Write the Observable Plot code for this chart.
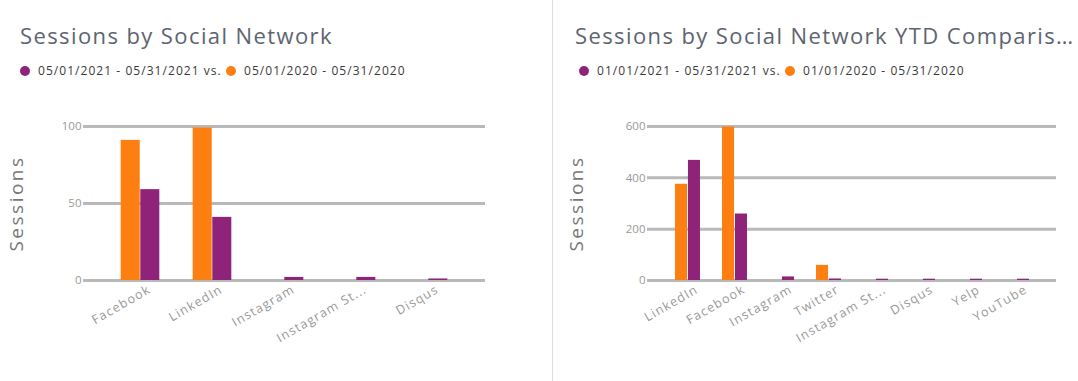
<!DOCTYPE html>
<html>
<head>
<meta charset="utf-8">
<script src="https://cdn.jsdelivr.net/npm/d3@7"></script>
<script src="https://cdn.jsdelivr.net/npm/@observablehq/plot@0.6"></script>
<style>
  body { margin: 0; background: #fff; font-family: "Open Sans", sans-serif; }
  #wrap { position: relative; width: 1078px; height: 381px; overflow: hidden; }
  .panel { position: absolute; top: 0; height: 381px; }
  #left { left: 0; width: 552px; border-right: 1px solid #ddd; }
  #right { left: 553px; width: 525px; }
  .title { position: absolute; top: 20px; font-size: 22px; letter-spacing: 1.4px; color: #5d6470; white-space: nowrap; }
  .legend { position: absolute; top: 62px; font-size: 12px; color: #3a3a3a; white-space: nowrap; letter-spacing: 1.05px; }
  .dot { display: inline-block; width: 10px; height: 10px; border-radius: 50%; vertical-align: -1px; margin-right: 8px; }
  .chart { position: absolute; top: 90px; left: 0; }
  .chart svg text { fill: #999; }
  .chart svg g[aria-label="x-axis tick label"] text { letter-spacing: 1.2px; }
  .chart svg g[aria-label="y-axis label"] text { font-size: 19px; letter-spacing: 2.5px; fill: #777; }
</style>
</head>
<body>
<div id="wrap">
  <div class="panel" id="left">
    <div class="title" id="lt" style="left:20px;"></div>
    <div class="legend" id="ll" style="left:20px;"></div>
    <div class="chart" id="lc"></div>
  </div>
  <div class="panel" id="right">
    <div class="title" id="rt" style="left:22px;"></div>
    <div class="legend" id="rl" style="left:26px;"></div>
    <div class="chart" id="rc"></div>
  </div>
</div>
<script>
const colorCurrent = "#8f237a";
const colorPrevious = "#fd7f12";

const leftTitle = "Sessions by Social Network";
const leftCurrentLabel = "05/01/2021 - 05/31/2021 vs.";
const leftPreviousLabel = "05/01/2020 - 05/31/2020";
const leftCategories = ["Facebook", "LinkedIn", "Instagram", "Instagram St...", "Disqus"];
const leftCurrent = [59, 41, 2, 2, 1];
const leftPrevious = [91, 99, 0, 0, 0];
const leftTicks = [0, 50, 100];

const rightTitle = "Sessions by Social Network YTD Comparis\u2026";
const rightCurrentLabel = "01/01/2021 - 05/31/2021 vs.";
const rightPreviousLabel = "01/01/2020 - 05/31/2020";
const rightCategories = ["LinkedIn", "Facebook", "Instagram", "Twitter", "Instagram St...", "Disqus", "Yelp", "YouTube"];
const rightCurrent = [468, 259, 14, 6, 5, 5, 5, 5];
const rightPrevious = [375, 598, 0, 59, 0, 0, 0, 0];
const rightTicks = [0, 200, 400, 600];

function legend(el, cur, prev) {
  el.innerHTML = `<span class="dot" style="background:${colorCurrent}"></span>${cur} <span class="dot" style="background:${colorPrevious}"></span>${prev}`;
}

function chart({categories, current, previous, ticks, width, marginLeft, marginRight, labelOffset}) {
  const height = 290, marginTop = 36, marginBottom = 100;
  const padOuter = 0.27, barFrac = 0.27;
  const step = (width - marginLeft - marginRight) / (categories.length + 2 * padOuter);
  const bw = step * barFrac;
  const rows = categories.map((c, i) => ({cat: c, cur: current[i], prev: previous[i]}));
  return Plot.plot({
    width, height, marginTop, marginBottom, marginLeft, marginRight,
    style: {fontFamily: "Open Sans, sans-serif", fontSize: "11px", color: "#999"},
    x: {type: "band", domain: categories, paddingInner: 0, paddingOuter: padOuter},
    y: {domain: [0, ticks[ticks.length - 1]]},
    marks: [
      Plot.ruleY(ticks, {stroke: "#b9b9b9", strokeWidth: 3}),
      Plot.barY(rows, {x: "cat", y: "prev", fill: colorPrevious, insetLeft: step / 2 - bw, insetRight: step / 2}),
      Plot.barY(rows, {x: "cat", y: "cur", fill: colorCurrent, insetLeft: step / 2, insetRight: step / 2 - bw}),
      Plot.axisY({ticks, tickSize: 0, tickPadding: 2, fontSize: 11.5, label: "Sessions", labelArrow: "none", labelAnchor: "center", labelOffset}),
      Plot.axisX({tickSize: 0, tickPadding: 8, tickRotate: -30, fontSize: 12.5, dx: 9, label: null})
    ]
  });
}

document.getElementById("lt").textContent = leftTitle;
document.getElementById("rt").textContent = rightTitle;
legend(document.getElementById("ll"), leftCurrentLabel, leftPreviousLabel);
legend(document.getElementById("rl"), rightCurrentLabel, rightPreviousLabel);

document.getElementById("lc").appendChild(chart({
  categories: leftCategories, current: leftCurrent, previous: leftPrevious, ticks: leftTicks,
  width: 552, marginLeft: 83, marginRight: 67, labelOffset: 74
}));
document.getElementById("rc").appendChild(chart({
  categories: rightCategories, current: rightCurrent, previous: rightPrevious, ticks: rightTicks,
  width: 525, marginLeft: 94, marginRight: 22, labelOffset: 78
}));
</script>
</body>
</html>
